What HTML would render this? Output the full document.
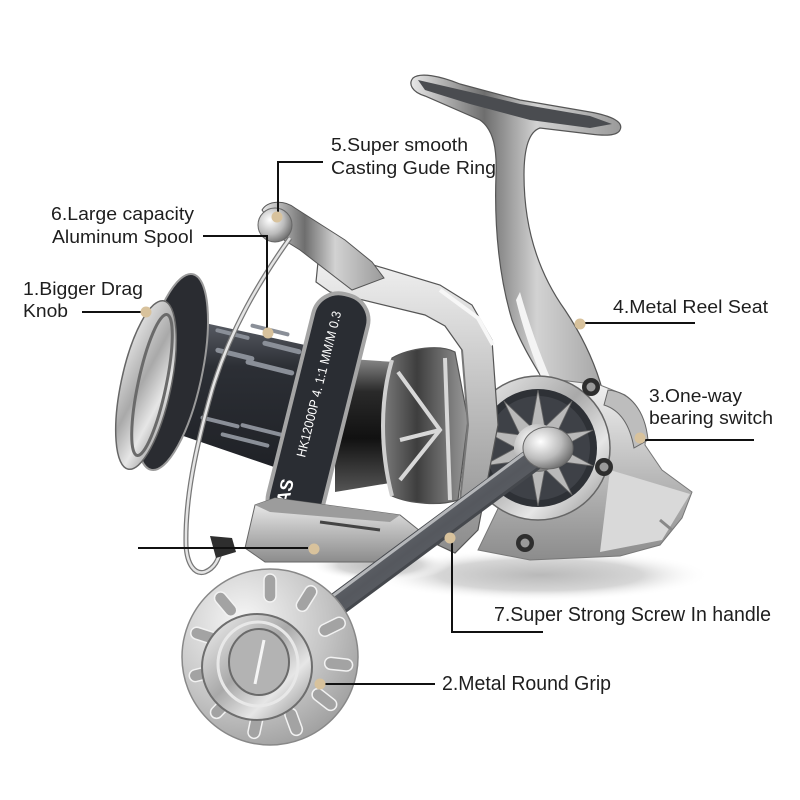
<!DOCTYPE html>
<html><head><meta charset="utf-8"><style>
html,body{margin:0;padding:0;background:#fff;}
svg{display:block;}
text{font-family:"Liberation Sans",Arial,sans-serif;fill:#1e1e1e;}
</style></head><body>
<svg width="800" height="800" viewBox="0 0 800 800" xmlns="http://www.w3.org/2000/svg">
<defs>
<linearGradient id="sil" x1="0" y1="0" x2="1" y2="1">
<stop offset="0" stop-color="#f4f4f4"/><stop offset="0.45" stop-color="#a9a9a9"/><stop offset="0.7" stop-color="#e6e6e6"/><stop offset="1" stop-color="#8a8a8a"/></linearGradient>
<linearGradient id="silH" x1="0" y1="0" x2="1" y2="0">
<stop offset="0" stop-color="#e8e8e8"/><stop offset="0.35" stop-color="#6e6e6e"/><stop offset="0.6" stop-color="#d2d2d2"/><stop offset="1" stop-color="#9a9a9a"/></linearGradient>
<linearGradient id="silV" x1="0" y1="0" x2="0" y2="1">
<stop offset="0" stop-color="#f2f2f2"/><stop offset="0.5" stop-color="#bdbdbd"/><stop offset="1" stop-color="#8c8c8c"/></linearGradient>
<linearGradient id="dark" x1="0" y1="0" x2="0" y2="1">
<stop offset="0" stop-color="#5c6068"/><stop offset="0.3" stop-color="#2c2f35"/><stop offset="1" stop-color="#1e2025"/></linearGradient>
<linearGradient id="cyl" x1="0" y1="0" x2="0" y2="1">
<stop offset="0" stop-color="#8a8a8a"/><stop offset="0.25" stop-color="#2a2a2a"/><stop offset="0.6" stop-color="#111"/><stop offset="1" stop-color="#555"/></linearGradient>
<linearGradient id="cup" x1="0" y1="0" x2="1" y2="0">
<stop offset="0" stop-color="#7a7a7a"/><stop offset="0.4" stop-color="#3e3e3e"/><stop offset="1" stop-color="#9a9a9a"/></linearGradient>
<linearGradient id="handle" x1="0" y1="0" x2="1" y2="1">
<stop offset="0" stop-color="#9a9da2"/><stop offset="0.5" stop-color="#55585e"/><stop offset="1" stop-color="#7a7d82"/></linearGradient>
<radialGradient id="knob" cx="0.35" cy="0.3" r="0.8">
<stop offset="0" stop-color="#f7f7f7"/><stop offset="0.6" stop-color="#c4c4c4"/><stop offset="1" stop-color="#9a9a9a"/></radialGradient>
<radialGradient id="shadow" cx="0.5" cy="0.5" r="0.5">
<stop offset="0" stop-color="#b9b9b9"/><stop offset="0.6" stop-color="#d6d6d6"/><stop offset="1" stop-color="#ffffff" stop-opacity="0"/></radialGradient>
<radialGradient id="ball" cx="0.35" cy="0.35" r="0.7">
<stop offset="0" stop-color="#ffffff"/><stop offset="0.6" stop-color="#bcbcbc"/><stop offset="1" stop-color="#6f6f6f"/></radialGradient>
</defs>

<!-- shadow -->
<ellipse cx="540" cy="575" rx="170" ry="26" fill="url(#shadow)"/>
<ellipse cx="380" cy="565" rx="70" ry="16" fill="url(#shadow)"/>

<!-- T bar + stem -->
<path d="M413,78 C420,72 440,76 460,84 L520,100 L590,112 C612,116 624,122 620,130 C617,136 605,136 590,134 L540,128 C528,132 524,150 524,175 C524,230 540,275 565,310 C585,340 598,370 605,400 L560,410 C545,380 525,355 512,320 C500,280 494,230 496,175 C497,150 494,130 480,120 L425,96 C412,92 408,84 413,78 Z" fill="url(#silH)" stroke="#555" stroke-width="1.2"/>
<path d="M418,80 L470,92 L520,104 L590,116 L612,124 L590,128 L530,120 L470,104 L425,90 Z" fill="#4a4c50"/>
<path d="M520,292 C528,320 538,350 552,382 L545,386 C532,355 522,325 516,300 Z" fill="#f4f4f4"/>

<!-- rear housing -->
<path d="M560,380 L600,385 L625,395 C640,405 648,425 645,445 L662,470 L692,492 L682,518 L660,545 L620,556 L530,560 L478,550 Z" fill="url(#silV)" stroke="#777" stroke-width="1"/>
<path d="M610,470 L690,494 L662,540 L600,552 Z" fill="#d9d9d9"/>
<path d="M660,520 L672,530" stroke="#888" stroke-width="3"/>
<path d="M608,390 C630,392 645,410 648,440 L634,448 C630,425 620,410 604,405 Z" fill="#bdbdbd" stroke="#666" stroke-width="1"/>

<!-- gear -->
<circle cx="538" cy="448" r="72" fill="url(#sil)" stroke="#666" stroke-width="1.5"/>
<circle cx="538" cy="448" r="59" fill="#2e3136"/>
<circle cx="538" cy="448" r="52" fill="#4a4d53" opacity="0.6"/>
<g fill="#b9b9b9" stroke="#666" stroke-width="0.8">
<polygon points="531,428 545,428 538,390"/>
<polygon points="531,428 545,428 538,390" transform="rotate(36 538 448)"/>
<polygon points="531,428 545,428 538,390" transform="rotate(72 538 448)"/>
<polygon points="531,428 545,428 538,390" transform="rotate(108 538 448)"/>
<polygon points="531,428 545,428 538,390" transform="rotate(144 538 448)"/>
<polygon points="531,428 545,428 538,390" transform="rotate(180 538 448)"/>
<polygon points="531,428 545,428 538,390" transform="rotate(216 538 448)"/>
<polygon points="531,428 545,428 538,390" transform="rotate(252 538 448)"/>
<polygon points="531,428 545,428 538,390" transform="rotate(288 538 448)"/>
<polygon points="531,428 545,428 538,390" transform="rotate(324 538 448)"/>
</g>
<circle cx="538" cy="448" r="24" fill="url(#ball)"/>

<!-- screws -->
<g><circle cx="591" cy="387" r="9" fill="#2e2e2e"/><circle cx="591" cy="387" r="4.5" fill="#9a9a9a"/>
<circle cx="604" cy="467" r="9" fill="#2e2e2e"/><circle cx="604" cy="467" r="4.5" fill="#9a9a9a"/>
<circle cx="525" cy="543" r="9" fill="#2e2e2e"/><circle cx="525" cy="543" r="4.5" fill="#9a9a9a"/></g>

<!-- inner dark cylinder -->
<path d="M335,358 L395,362 C402,400 402,450 396,482 L335,492 Z" fill="url(#cyl)"/>

<!-- rotor cup -->
<path d="M392,358 C410,348 440,344 455,352 L468,420 L458,500 C440,506 410,504 392,496 C380,450 380,400 392,358 Z" fill="url(#cup)" stroke="#555" stroke-width="1.2"/>
<g stroke="#d8d8d8" stroke-width="4" fill="none">
<path d="M398,372 L440,430 L400,480"/>
<path d="M400,440 L440,430"/>
<path d="M445,358 L450,500"/>
</g>
<path d="M392,360 C380,400 380,450 392,496" stroke="#cfcfcf" stroke-width="4" fill="none"/>

<!-- rotor frame -->
<path d="M318,262 L340,255 L440,285 L472,305 L492,340 L498,425 L478,530 L455,553 L438,545 L458,520 L468,425 L462,350 L445,326 L425,315 L330,292 L316,282 Z" fill="url(#silV)" stroke="#555" stroke-width="1.2"/>
<path d="M440,290 L478,318 L493,345" stroke="#f7f7f7" stroke-width="4" fill="none"/>
<path d="M468,425 L462,350 M468,425 L458,520" stroke="#777" stroke-width="2" fill="none"/>

<!-- spool body -->
<path d="M182,318 L305,345 L312,480 L160,428 Z" fill="url(#dark)"/>
<g fill="#8a8f98">
<rect x="250" y="328" width="40" height="4" rx="2" transform="rotate(14 270 330)"/>
<rect x="215" y="332" width="35" height="4" rx="2" transform="rotate(14 232 334)"/>
<rect x="262" y="345" width="40" height="5" rx="2.5" transform="rotate(14 282 347)"/>
<rect x="215" y="352" width="40" height="5" rx="2.5" transform="rotate(14 235 354)"/>
<rect x="245" y="365" width="50" height="5" rx="2.5" transform="rotate(14 270 367)"/>
<rect x="200" y="420" width="40" height="4" rx="2" transform="rotate(14 220 422)"/>
<rect x="240" y="428" width="45" height="4" rx="2" transform="rotate(14 262 430)"/>
<rect x="220" y="438" width="50" height="4" rx="2" transform="rotate(14 245 440)"/>
</g>

<!-- flange + drag knob -->
<ellipse cx="172" cy="372" rx="30" ry="100" transform="rotate(12 172 372)" fill="#2a2c31" stroke="#9a9a9a" stroke-width="2"/>
<ellipse cx="146" cy="385" rx="25" ry="86" transform="rotate(12 146 385)" fill="url(#sil)" stroke="#666" stroke-width="1.5"/>
<ellipse cx="152" cy="385" rx="14" ry="72" transform="rotate(12 152 385)" fill="none" stroke="#6a6a6a" stroke-width="3"/>

<!-- spool ring -->
<rect x="290" y="291" width="56" height="238" rx="26" transform="rotate(14 318 410)" fill="#2a2d33" stroke="#a5a5a5" stroke-width="4"/>
<text transform="translate(305,458) rotate(-76)" font-family="Liberation Serif,serif" font-size="13" style="fill:#fff" textLength="150" lengthAdjust="spacingAndGlyphs">HK12000P  4. 1:1  MM/M 0.3</text>
<text transform="translate(288,505) rotate(-76)" font-family="Liberation Sans,sans-serif" font-size="18" font-weight="bold" style="fill:#fff">AS</text>

<!-- bail arm top -->
<path d="M262,210 C268,200 285,200 295,208 L345,240 L372,262 L384,278 L352,290 L300,250 L284,240 Z" fill="url(#silH)" stroke="#555" stroke-width="1"/>
<circle cx="275" cy="225" r="17" fill="url(#ball)" stroke="#666" stroke-width="1"/>

<!-- bottom bracket -->
<path d="M255,505 L275,498 L400,515 L425,535 L385,562 L265,562 L245,548 Z" fill="url(#silV)" stroke="#666" stroke-width="1"/>
<path d="M255,505 L275,498 L400,515 L390,522 L270,512 Z" fill="#9c9c9c"/>
<path d="M320,522 L380,530" stroke="#444" stroke-width="3"/>

<!-- bail wire -->
<path d="M290,238 C260,280 230,330 212,390 C195,450 185,500 186,545 C187,565 195,575 205,572 C215,568 218,560 222,548" fill="none" stroke="#777" stroke-width="5"/>
<path d="M290,238 C260,280 230,330 212,390 C195,450 185,500 186,545 C187,565 195,575 205,572 C215,568 218,560 222,548" fill="none" stroke="#e4e4e4" stroke-width="2.5"/>
<path d="M210,536 L232,538 L236,552 L216,558 Z" fill="#2e2e2e"/>

<!-- handle -->
<path d="M548,448 L335,606" stroke="#45484d" stroke-width="24" stroke-linecap="round"/>
<path d="M548,448 L335,606" stroke="url(#handle)" stroke-width="18" stroke-linecap="round"/>
<path d="M542,440 L330,598" stroke="#b5b7ba" stroke-width="3"/>
<ellipse cx="548" cy="448" rx="25" ry="21" fill="url(#ball)" stroke="#666" stroke-width="1"/>

<!-- grip knob -->
<ellipse cx="270" cy="657" rx="88" ry="88" fill="url(#knob)" stroke="#888" stroke-width="1.5"/>
<g fill="#a3a3a3" stroke="#f2f2f2" stroke-width="1.5">
<rect x="264" y="574" width="12" height="28" rx="6"/>
<rect x="264" y="574" width="12" height="28" rx="6" transform="rotate(32 270 657)"/>
<rect x="264" y="574" width="12" height="28" rx="6" transform="rotate(64 270 657)"/>
<rect x="264" y="574" width="12" height="28" rx="6" transform="rotate(96 270 657)"/>
<rect x="264" y="574" width="12" height="28" rx="6" transform="rotate(128 270 657)"/>
<rect x="264" y="574" width="12" height="28" rx="6" transform="rotate(160 270 657)"/>
<rect x="264" y="574" width="12" height="28" rx="6" transform="rotate(192 270 657)"/>
<rect x="264" y="574" width="12" height="28" rx="6" transform="rotate(224 270 657)"/>
<rect x="264" y="574" width="12" height="28" rx="6" transform="rotate(256 270 657)"/>
<rect x="264" y="574" width="12" height="28" rx="6" transform="rotate(288 270 657)"/>
<rect x="264" y="574" width="12" height="28" rx="6" transform="rotate(320 270 657)"/>
</g>
<ellipse cx="257" cy="667" rx="55" ry="53" fill="url(#sil)" stroke="#6e6e6e" stroke-width="2"/>
<ellipse cx="258" cy="664" rx="40" ry="42" fill="none" stroke="#e8e8e8" stroke-width="3"/>
<ellipse cx="259" cy="662" rx="30" ry="33" fill="#b3b3b3" stroke="#6a6a6a" stroke-width="2"/>
<path d="M264,640 L255,684" stroke="#f5f5f5" stroke-width="3"/>

<!-- connector lines -->
<g stroke="#111" stroke-width="2" fill="none">
<path d="M323,162 H278 V213"/>
<path d="M203,236 H267 V330"/>
<path d="M82,312 H142"/>
<path d="M585,323 H695"/>
<path d="M645,440 H754"/>
<path d="M452,540 V632 H543"/>
<path d="M324,684 H435"/>
<path d="M138,548 H308"/>
</g>
<g fill="#d8c29c">
<circle cx="277" cy="217" r="5.5"/><circle cx="268" cy="333" r="5.5"/><circle cx="146" cy="312" r="5.5"/>
<circle cx="580" cy="324" r="5.5"/><circle cx="640" cy="438" r="5.5"/><circle cx="450" cy="538" r="5.5"/>
<circle cx="320" cy="684" r="5.5"/><circle cx="314" cy="549" r="5.5"/>
</g>

<!-- labels -->
<g font-size="18">
<text x="331" y="151" textLength="137" lengthAdjust="spacingAndGlyphs">5.Super smooth</text>
<text x="331" y="174" textLength="165" lengthAdjust="spacingAndGlyphs">Casting Gude Ring</text>
<text x="51" y="220" textLength="143" lengthAdjust="spacingAndGlyphs">6.Large capacity</text>
<text x="52" y="243" textLength="141" lengthAdjust="spacingAndGlyphs">Aluminum Spool</text>
<text x="23" y="295" textLength="120" lengthAdjust="spacingAndGlyphs">1.Bigger Drag</text>
<text x="23" y="317" textLength="45" lengthAdjust="spacingAndGlyphs">Knob</text>
<text x="613" y="313" textLength="155" lengthAdjust="spacingAndGlyphs">4.Metal Reel Seat</text>
<text x="649" y="402" textLength="93" lengthAdjust="spacingAndGlyphs">3.One-way</text>
<text x="649" y="424" textLength="124" lengthAdjust="spacingAndGlyphs">bearing switch</text>
</g>
<g font-size="20">
<text x="494" y="621" textLength="277" lengthAdjust="spacingAndGlyphs">7.Super Strong Screw In handle</text>
<text x="442" y="690" textLength="169" lengthAdjust="spacingAndGlyphs">2.Metal Round Grip</text>
</g>
</svg>
</body></html>
